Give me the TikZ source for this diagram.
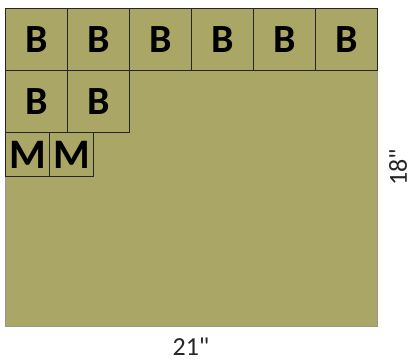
\documentclass[tikz,border=0pt]{standalone}
\usepackage{fontspec}
\setmainfont{Carlito}[Ligatures=TeXOff]
\usetikzlibrary{positioning}
\definecolor{olive}{RGB}{169,166,102}
\definecolor{edgegray}{RGB}{150,150,140}
\tikzset{
  board/.style={rectangle,draw=edgegray,fill=olive,line width=0.8pt,
                anchor=north west,inner sep=0pt},
  bbox/.style={rectangle,draw=black!85,line width=1.3pt,fill=olive,
               minimum width=62pt,minimum height=62pt,inner sep=0pt,
               anchor=north west,font=\fontsize{40}{40}\bfseries\selectfont},
  mbox/.style={bbox,minimum width=44pt,minimum height=44pt,
               font=\fontsize{42}{42}\bfseries\selectfont},
  dim/.style={font=\fontsize{26}{26}\selectfont,text=black!85,inner sep=0pt},
}
\begin{document}
\begin{tikzpicture}[x=1pt,y=-1pt]
  \useasboundingbox (0,0) rectangle (414,362);
  \node[board,minimum width=372pt,minimum height=318pt] (board) at (5,8) {};
  % top row of B
  \foreach \i in {1,...,6}
    \node[bbox] (b\i) at ({5+62*(\i-1)},8) {B};
  % second row
  \node[bbox] (b7) at (5,70) {B};
  \node[bbox] (b8) at (67,70) {B};
  % small ones
  \node[mbox] (m1) at (5,132) {M};
  \node[mbox] (m2) at (49,132) {M};
  % dimensions
  \node[dim,rotate=90] (h) at (398,167) {18"};
  \node[dim] (w) at (191,347) {21"};
\end{tikzpicture}
\end{document}
